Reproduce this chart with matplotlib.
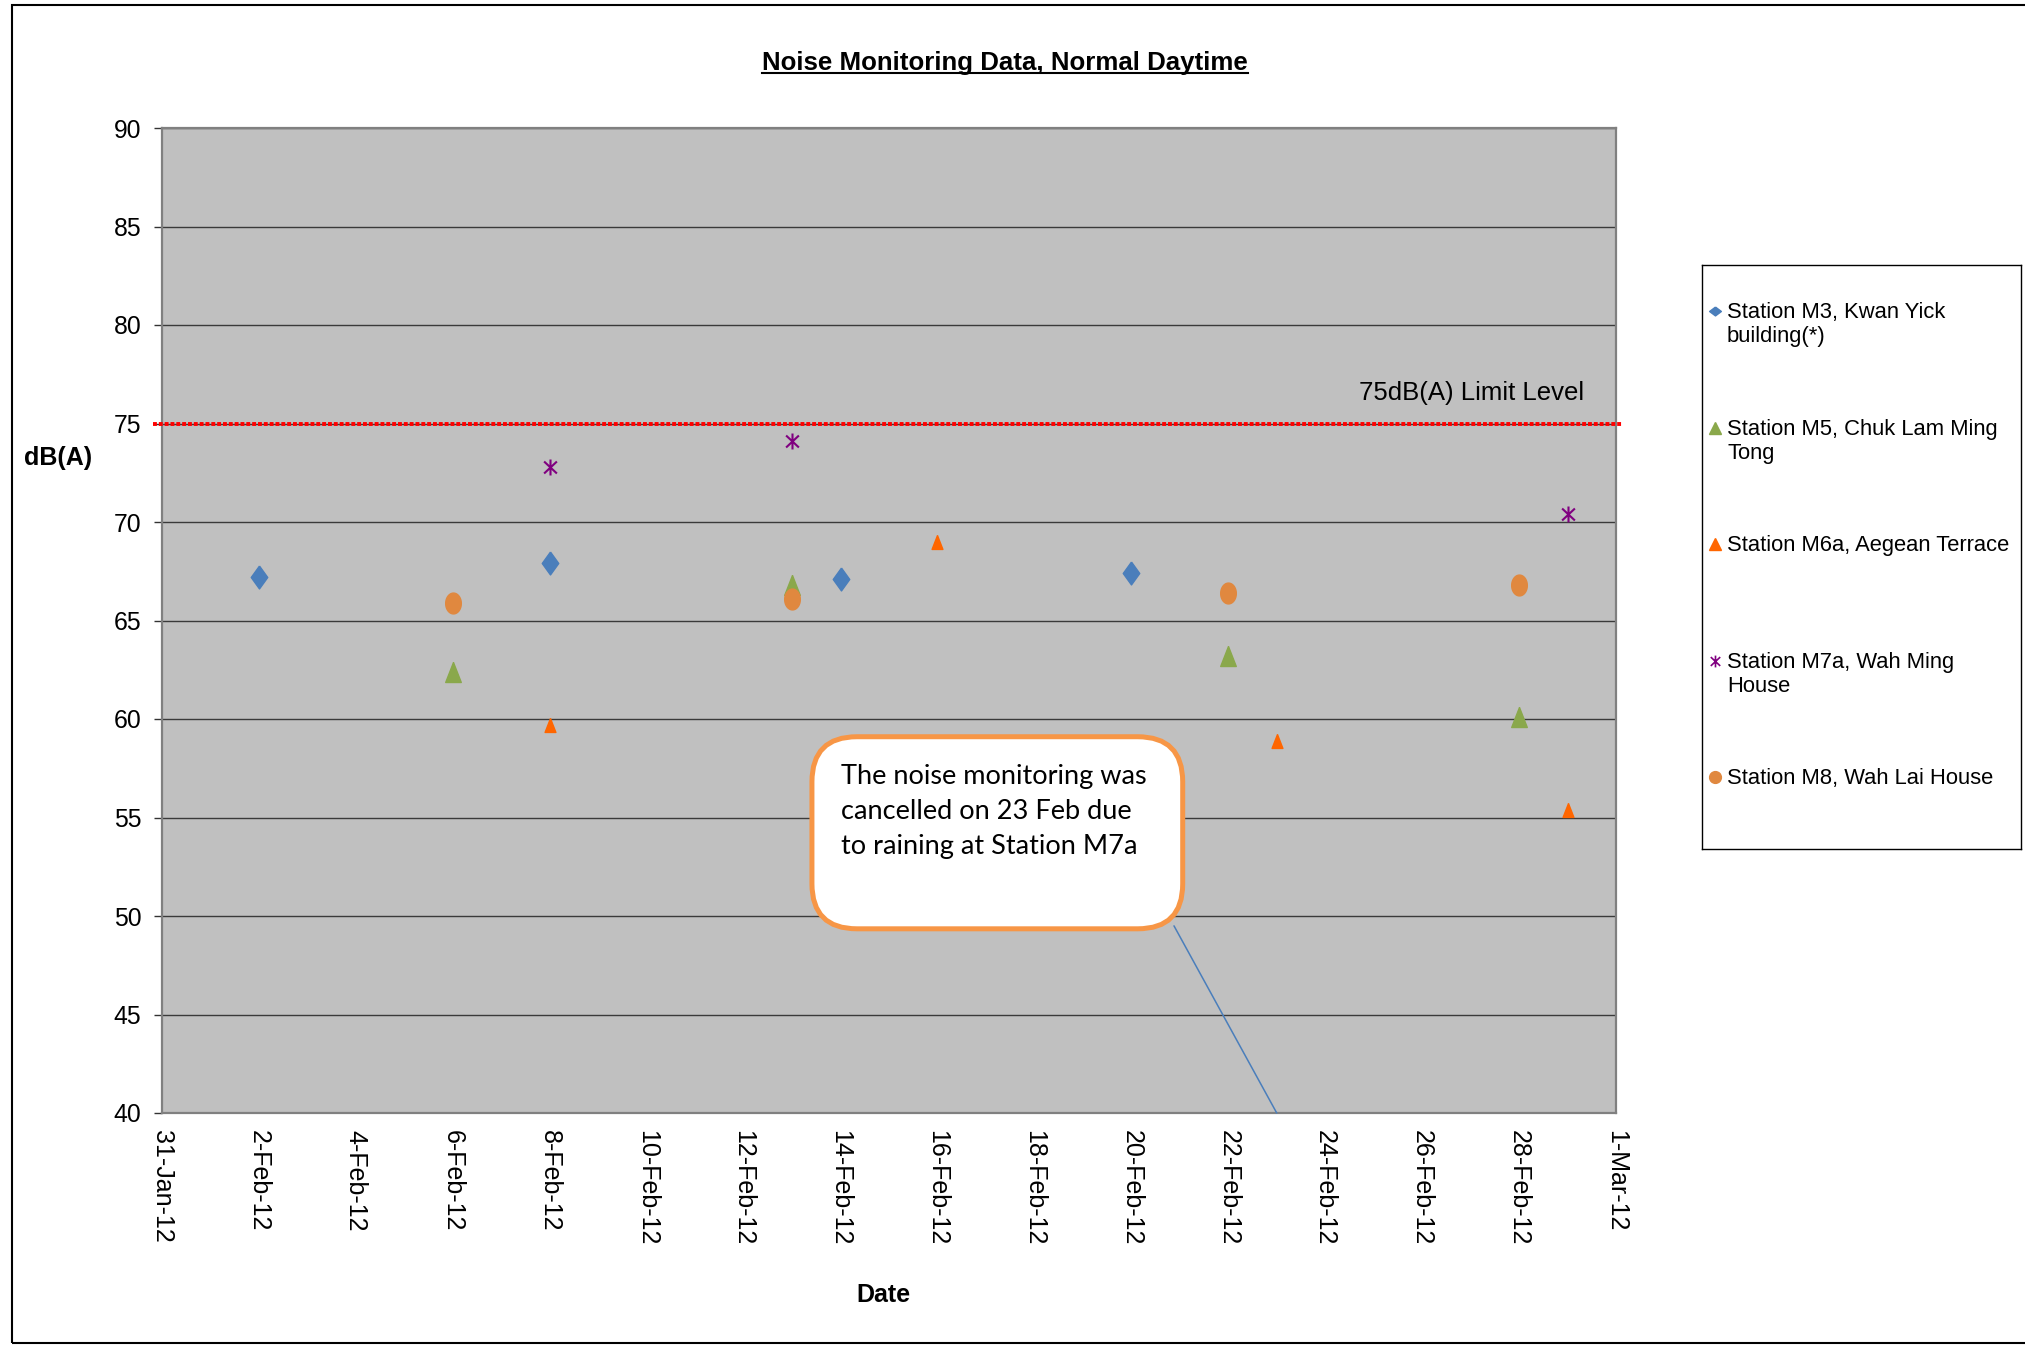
import datetime as dt

import numpy as np
import matplotlib
matplotlib.use("Agg")
import matplotlib.pyplot as plt
import matplotlib.dates as mdates
from matplotlib.path import Path
from matplotlib.patches import FancyBboxPatch, Rectangle
from matplotlib.lines import Line2D
from matplotlib.ticker import FuncFormatter, MultipleLocator

plt.rcParams['font.family'] = ['Liberation Sans', 'DejaVu Sans']


def day(d, m=2):
    return dt.datetime(2012, m, d)


# measured levels, dB(A)
m3_dates = [day(2), day(8), day(14), day(20)]
m3_levels = [67.2, 67.9, 67.1, 67.4]

m5_dates = [day(6), day(13), day(22), day(28)]
m5_levels = [62.4, 66.8, 63.2, 60.1]

m6a_dates = [day(8), day(16), day(23), day(29)]
m6a_levels = [59.7, 69.0, 58.9, 55.4]

m7a_dates = [day(8), day(13), day(29)]
m7a_levels = [72.8, 74.1, 70.4]

m8_dates = [day(6), day(13), day(22), day(28)]
m8_levels = [65.9, 66.1, 66.4, 66.8]

station_names = [
    "Station M3, Kwan Yick\nbuilding(*)",
    "Station M5, Chuk Lam Ming\nTong",
    "Station M6a, Aegean Terrace",
    "Station M7a, Wah Ming\nHouse",
    "Station M8, Wah Lai House",
]

limit_level = 75
x_start = day(31, 1)
x_end = day(1, 3)
rain_date = day(23)

# Excel-like markers (slightly taller than wide)
diamond = [(0, 1), (0.72, 0), (0, -1), (-0.72, 0), (0, 1)]
tall_tri = [(0, 1), (0.78, -1), (-0.78, -1), (0, 1)]
t = np.linspace(0, 2 * np.pi, 60)
oval = list(zip(0.75 * np.cos(t), np.sin(t)))
star = Path([(0, -1), (0, 1), (-0.8, -0.75), (0.8, 0.75), (-0.8, 0.75), (0.8, -0.75)],
            [Path.MOVETO, Path.LINETO] * 3)

blue = '#4A7EBB'
green = '#8AA84B'
orange = '#FF6600'
purple = '#800080'
tan = '#E0883F'

series = [
    (m3_dates, m3_levels, dict(marker=diamond, ms=16.5, color=blue)),
    (m5_dates, m5_levels, dict(marker=tall_tri, ms=14.4, color=green)),
    (m6a_dates, m6a_levels, dict(marker=tall_tri, ms=10, color=orange)),
    (m7a_dates, m7a_levels, dict(marker=star, ms=11.5, color=purple, mfc='none', mew=1.5)),
    (m8_dates, m8_levels, dict(marker=oval, ms=15, color=tan)),
]

W, H = 2025, 1347
fig = plt.figure(figsize=(W / 100, H / 100), dpi=100)

ax = fig.add_axes([162 / W, 1 - 1113 / H, 1454 / W, 985 / H])
ax.set_facecolor('#C0C0C0')

for xs, ys, st in series:
    ax.plot(xs, ys, ls='none', mec=st['color'], **st, zorder=4)

ax.set_xlim(x_start, x_end)
ax.set_ylim(40, 90)
ax.yaxis.set_major_locator(MultipleLocator(5))
ax.grid(axis='y', color='#3a3a3a', lw=1.0, zorder=1)
ax.set_axisbelow(True)

ticks = [x_start + dt.timedelta(days=2 * i) for i in range(16)]
ax.set_xticks(ticks)
ax.xaxis.set_major_formatter(FuncFormatter(
    lambda v, pos: "%d-%s" % (mdates.num2date(v).day, mdates.num2date(v).strftime('%b-%y'))))
ax.tick_params(axis='x', length=0, pad=12, labelsize=18, labelrotation=270)
ax.tick_params(axis='y', length=6, width=1, pad=9, labelsize=17.8, color='#333333')
for lab in ax.get_xticklabels():
    lab.set_ha('center')
    lab.set_va('top')

for s in ax.spines.values():
    s.set_color('#808080')
    s.set_linewidth(1.6)

# limit line
ax.axhline(limit_level, xmin=-0.006, xmax=1.004, color='red', lw=2.8,
           ls=(0, (1, 0.5)), clip_on=False, zorder=3)
ax.text(0.978, 0.731, "75dB(A) Limit Level", transform=ax.transAxes,
        ha='right', va='center', fontsize=18.5)

ax.set_ylabel("dB(A)", rotation=0, fontsize=18, fontweight='bold', ha='center', va='center')
ax.yaxis.set_label_coords(-0.0715, 0.665)
ax.set_xlabel("Date", fontsize=18, fontweight='bold', ha='center', va='center')
ax.xaxis.set_label_coords(0.496, -0.185)

# callout about the cancelled M7a measurement
box = FancyBboxPatch((0.447, 0.187), 0.255, 0.195, transform=ax.transAxes,
                     boxstyle="round,pad=0,rounding_size=0.031",
                     mutation_aspect=1454 / 985, fc='white', ec='#F79646', lw=3.6, zorder=6)
ax.add_patch(box)
ax.text(0.467, 0.354, "The noise monitoring was\ncancelled on 23 Feb due\nto raining at Station M7a",
        transform=ax.transAxes, ha='left', va='top', fontsize=19.5, family='Lato',
        linespacing=1.48, zorder=7)
ax.annotate('', xy=(rain_date, 40), xycoords='data', xytext=(0.696, 0.190),
            textcoords='axes fraction',
            arrowprops=dict(arrowstyle='-', color=blue, lw=1.1, shrinkA=0, shrinkB=0),
            zorder=5)

# legend panel
lax = fig.add_axes([1702 / W, 1 - 849 / H, 319 / W, 584 / H])
lax.set_xlim(0, 319)
lax.set_ylim(584, 0)
lax.set_xticks([])
lax.set_yticks([])
for s in lax.spines.values():
    s.set_color('black')
    s.set_linewidth(1.0)
leg_markers = [
    dict(marker=[(0, 0.75), (1, 0), (0, -0.75), (-1, 0), (0, 0.75)], ms=8.5, color=blue),
    dict(marker='^', ms=8, color=green),
    dict(marker='^', ms=8, color=orange),
    dict(marker=star, ms=8.5, color=purple, mfc='none', mew=1.2),
    dict(marker='o', ms=8.5, color=tan),
]
for i, (name, st) in enumerate(zip(station_names, leg_markers)):
    yc = 46 + i * 116.6
    lax.plot([13], [yc], ls='none', mec=st['color'], **st)
    lax.text(25, yc - 9, name, ha='left', va='top', fontsize=15.8, linespacing=1.2)

# title with underline
title = fig.text(1005 / W, 1 - 70 / H, "Noise Monitoring Data, Normal Daytime",
                 ha='center', va='baseline', fontsize=18.6, fontweight='bold')
fig.canvas.draw()
bb = title.get_window_extent()
fig.add_artist(Line2D([bb.x0 / W, bb.x1 / W], [1 - 73 / H, 1 - 73 / H],
                      transform=fig.transFigure, color='black', lw=1.5))

# outer frame
fig.add_artist(Rectangle((12 / W, 1 - 1343 / H), 1.0, 1338 / H, transform=fig.transFigure,
                         fill=False, ec='black', lw=1.5))

fig.savefig("out.png", dpi=100)
